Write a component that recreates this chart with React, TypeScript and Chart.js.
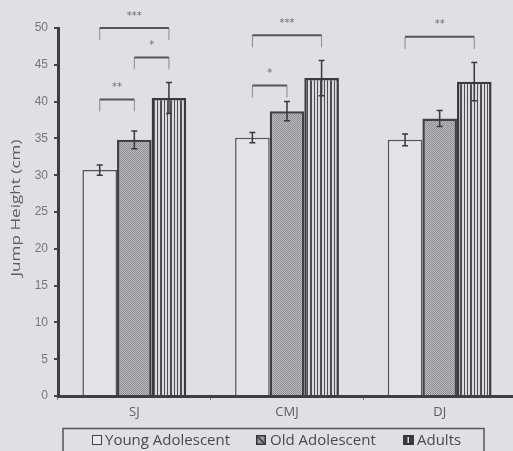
import React, { useEffect, useRef } from "react";
import { Chart, registerables } from "chart.js";

Chart.register(...registerables);

const categories = ["SJ", "CMJ", "DJ"];
const seriesNames = ["Young Adolescent", "Old Adolescent", "Adults"];
const young = [30.7, 35.1, 34.8];
const old = [34.8, 38.7, 37.7];
const adults = [40.5, 43.2, 42.7];
const youngErr = [0.7, 0.7, 0.8];
const oldErr = [1.2, 1.3, 1.1];
const adultsErr = [2.1, 2.4, 2.6];

// significance brackets
const sigCategory = [0, 0, 0, 1, 1, 2];
const sigFrom = [0, 1, 0, 0, 0, 0];
const sigTo = [1, 2, 2, 1, 2, 2];
const sigLevel = [40.3, 46.0, 50.0, 42.2, 49.0, 48.8];
const sigLabel = ["**", "*", "***", "*", "***", "**"];

const yTicksMax = 50;
const yTicksStep = 5;
const yTitle = "Jump Height (cm)";

const BG = "#e0dfe3";
const TXT = "#5e5d62";

function makeHatch(ctxRef: CanvasRenderingContext2D) {
  const c = document.createElement("canvas");
  c.width = 4;
  c.height = 4;
  const g = c.getContext("2d")!;
  g.fillStyle = "#bcbbc0";
  g.fillRect(0, 0, 4, 4);
  g.fillStyle = "#8e8d92";
  for (let i = 0; i < 4; i++) {
    g.fillRect(i, i, 1, 1);
    g.fillRect((i + 2) % 4, i, 1, 1);
  }
  return ctxRef.createPattern(c, "repeat")!;
}

function makeStripes(ctxRef: CanvasRenderingContext2D) {
  const c = document.createElement("canvas");
  const cols = ["d", "d", "l", "l", "d", "l", "l", "d", "l", "l"];
  c.width = cols.length;
  c.height = 1;
  const g = c.getContext("2d")!;
  cols.forEach((k, i) => {
    g.fillStyle = k === "d" ? "#4e4d53" : "#dbdadf";
    g.fillRect(i, 0, 1, 1);
  });
  return ctxRef.createPattern(c, "repeat")!;
}

const errors = [youngErr, oldErr, adultsErr];

const errorBarPlugin = {
  id: "errorBars",
  afterDatasetsDraw(chart: any) {
    const ctx = chart.ctx;
    const ys = chart.scales.y;
    ctx.save();
    chart.data.datasets.forEach((ds: any, i: number) => {
      const meta = chart.getDatasetMeta(i);
      meta.data.forEach((el: any, j: number) => {
        const v = ds.data[j];
        const e = errors[i][j];
        const x = el.x;
        const yt = ys.getPixelForValue(v + e);
        const yb = ys.getPixelForValue(v - e);
        ctx.strokeStyle = "#3a393e";
        ctx.lineWidth = 1.5;
        ctx.beginPath();
        ctx.moveTo(x, yt);
        ctx.lineTo(x, yb);
        ctx.moveTo(x - 3, yt);
        ctx.lineTo(x + 3, yt);
        ctx.moveTo(x - 3, yb);
        ctx.lineTo(x + 3, yb);
        ctx.stroke();
      });
    });
    ctx.restore();
  },
};

const sigPlugin = {
  id: "sigBrackets",
  afterDatasetsDraw(chart: any) {
    const ctx = chart.ctx;
    const ys = chart.scales.y;
    ctx.save();
    for (let k = 0; k < sigCategory.length; k++) {
      const c = sigCategory[k];
      const x1 = chart.getDatasetMeta(sigFrom[k]).data[c].x;
      const x2 = chart.getDatasetMeta(sigTo[k]).data[c].x;
      const y = ys.getPixelForValue(sigLevel[k]);
      ctx.strokeStyle = "#8a898e";
      ctx.lineWidth = 1;
      ctx.beginPath();
      ctx.moveTo(x1, y);
      ctx.lineTo(x1, y + 12);
      ctx.moveTo(x2, y);
      ctx.lineTo(x2, y + 12);
      ctx.stroke();
      ctx.strokeStyle = "#56555a";
      ctx.lineWidth = 2;
      ctx.beginPath();
      ctx.moveTo(x1, y);
      ctx.lineTo(x2, y);
      ctx.stroke();
      ctx.fillStyle = "#6e6d72";
      ctx.font = '10px "DejaVu Sans"';
      ctx.textAlign = "center";
      ctx.textBaseline = "middle";
      ctx.fillText(sigLabel[k], (x1 + x2) / 2, y - 12);
    }
    ctx.restore();
  },
};

const decorPlugin = {
  id: "decor",
  afterDraw(chart: any) {
    const ctx = chart.ctx;
    const area = chart.chartArea;
    ctx.save();
    // y-axis title, stretched along its length
    ctx.fillStyle = TXT;
    ctx.font = '13px "Open Sans"';
    const w = ctx.measureText(yTitle).width;
    ctx.translate(16, (area.top + area.bottom) / 2 - 4);
    ctx.rotate(-Math.PI / 2);
    ctx.scale(137 / w, 1);
    ctx.textAlign = "center";
    ctx.textBaseline = "middle";
    ctx.fillText(yTitle, 0, 0);
    ctx.restore();

    // legend box
    ctx.save();
    ctx.strokeStyle = "#555459";
    ctx.lineWidth = 1.5;
    ctx.beginPath();
    ctx.moveTo(63, 452);
    ctx.lineTo(63, 428.5);
    ctx.lineTo(484, 428.5);
    ctx.lineTo(484, 452);
    ctx.stroke();

    const boxX = [92, 256, 403];
    const textX = [105, 270, 417];
    const ly = 440;
    ctx.font = '15px "Open Sans"';
    ctx.textBaseline = "middle";
    ctx.textAlign = "left";
    for (let i = 0; i < 3; i++) {
      const bx = boxX[i];
      const by = ly - 5;
      if (i === 0) {
        ctx.fillStyle = "#e8e7ec";
        ctx.fillRect(bx, by, 10, 10);
        ctx.strokeStyle = "#444";
        ctx.lineWidth = 1;
        ctx.strokeRect(bx + 0.5, by + 0.5, 9, 9);
      } else if (i === 1) {
        ctx.fillStyle = "#9c9ba0";
        ctx.fillRect(bx, by, 10, 10);
        ctx.strokeStyle = "#333";
        ctx.lineWidth = 1.5;
        ctx.strokeRect(bx + 0.75, by + 0.75, 8.5, 8.5);
        ctx.beginPath();
        ctx.moveTo(bx + 2, by + 2);
        ctx.lineTo(bx + 8, by + 8);
        ctx.stroke();
      } else {
        ctx.fillStyle = "#3a393e";
        ctx.fillRect(bx, by, 11, 10);
        ctx.fillStyle = "#dcdbe0";
        ctx.fillRect(bx + 4.5, by + 2, 1.5, 6);
      }
      ctx.fillStyle = "#4a494e";
      ctx.fillText(seriesNames[i], textX[i], ly + 1);
    }
    ctx.restore();
  },
};

export default function App() {
  const ref = useRef<HTMLCanvasElement>(null);
  useEffect(() => {
    const canvas = ref.current!;
    const ctx = canvas.getContext("2d")!;
    const hatch = makeHatch(ctx);
    const stripes = makeStripes(ctx);
    const chart = new Chart(canvas, {
      type: "bar",
      data: {
        labels: categories,
        datasets: [
          {
            label: seriesNames[0],
            data: young,
            backgroundColor: "#e4e3e8",
            borderColor: "#55545a",
            borderWidth: 1.5,
          },
          {
            label: seriesNames[1],
            data: old,
            backgroundColor: hatch,
            borderColor: "#404045",
            borderWidth: 2.5,
          },
          {
            label: seriesNames[2],
            data: adults,
            backgroundColor: stripes,
            borderColor: "#3a393e",
            borderWidth: 2.5,
          },
        ],
      },
      options: {
        responsive: false,
        animation: false,
        devicePixelRatio: 1,
        layout: { padding: { top: 28, right: 4, left: 0, bottom: 0 } },
        plugins: {
          legend: { display: false },
          tooltip: { enabled: false },
        },
        datasets: {
          bar: { categoryPercentage: 0.68, barPercentage: 1.0 },
        },
        scales: {
          x: {
            grid: {
              display: true,
              drawOnChartArea: false,
              drawTicks: true,
              tickLength: 4,
              color: "#77767b",
              lineWidth: 1,
            },
            border: { display: true, color: "#3f3e43", width: 3 },
            ticks: {
              color: TXT,
              font: { family: "Open Sans", size: 13 },
              padding: 4,
            },
            afterFit: (s: any) => {
              s.height = 55;
            },
          },
          y: {
            min: 0,
            max: yTicksMax,
            ticks: {
              stepSize: yTicksStep,
              color: "#77767b",
              font: { family: "Liberation Sans", size: 12 },
              padding: 6,
            },
            grid: {
              display: true,
              drawOnChartArea: false,
              drawTicks: true,
              tickLength: 4,
              color: "#444348",
              lineWidth: 2,
            },
            border: { display: true, color: "#3f3e43", width: 3 },
            afterFit: (s: any) => {
              s.width = 58;
            },
          },
        },
      },
      plugins: [errorBarPlugin, sigPlugin, decorPlugin],
    });
    return () => chart.destroy();
  }, []);
  return (
    <div
      style={{
        position: "fixed",
        left: 0,
        top: 0,
        width: 513,
        height: 451,
        overflow: "hidden",
        background: BG,
      }}
    >
      <canvas ref={ref} width={520} height={451} style={{ display: "block" }} />
    </div>
  );
}
